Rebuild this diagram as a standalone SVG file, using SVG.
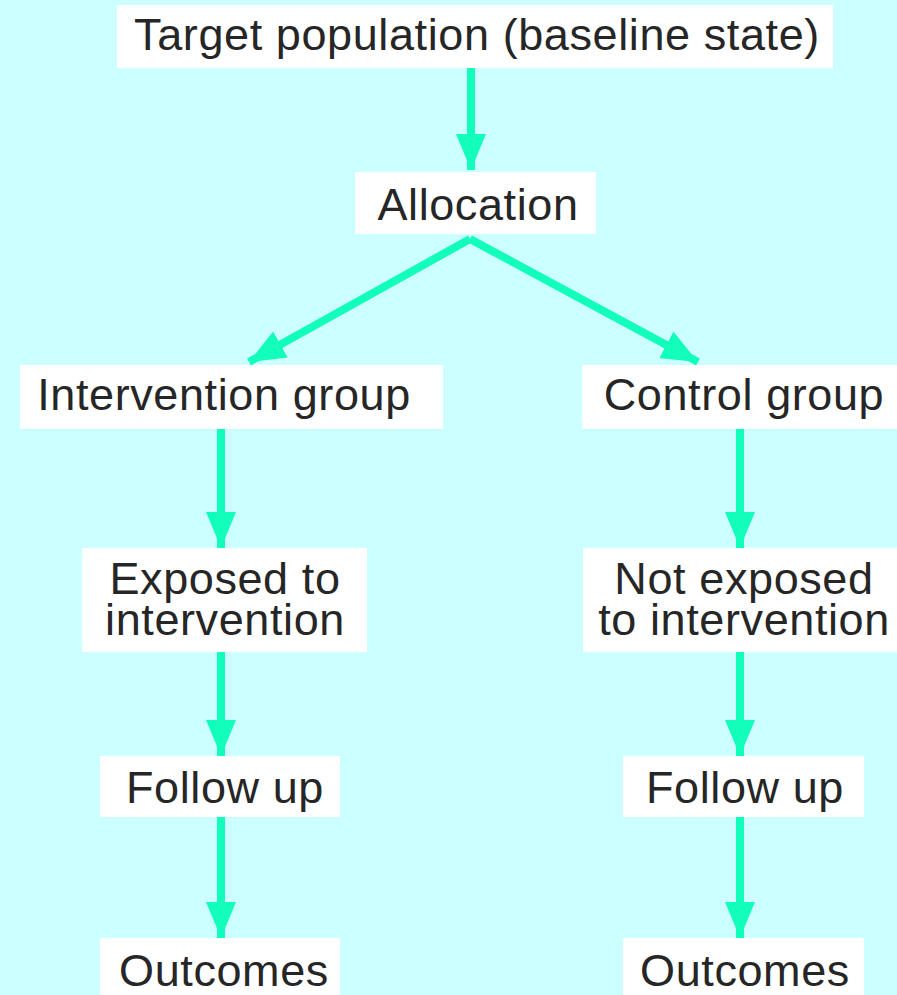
<svg xmlns="http://www.w3.org/2000/svg" width="897" height="995" viewBox="0 0 897 995">
<style>
.box{fill:#ffffff}
.t{font-family:"Liberation Sans",Arial,sans-serif;font-size:45px;letter-spacing:0.6px;fill:#262626;text-anchor:middle}
.c{stroke:#11ffbb;stroke-width:8;fill:none}
</style>
<defs>
<marker id="ah" viewBox="0 0 36 30" refX="36" refY="15" markerWidth="36" markerHeight="30" markerUnits="userSpaceOnUse" orient="auto">
<path d="M0,0 L36,15 L0,30 Z" fill="#11ffbb"/>
</marker>
</defs>
<rect width="897" height="995" fill="#ccffff"/>
<g id="connectors">
<line class="c" x1="471" y1="68" x2="471" y2="170" marker-end="url(#ah)"/>
<line class="c" x1="470" y1="239" x2="249" y2="362" marker-end="url(#ah)"/>
<line class="c" x1="470" y1="239" x2="698" y2="362" marker-end="url(#ah)"/>
<line class="c" x1="221" y1="429" x2="221" y2="548" marker-end="url(#ah)"/>
<line class="c" x1="221" y1="652" x2="221" y2="756" marker-end="url(#ah)"/>
<line class="c" x1="221" y1="817" x2="221" y2="938" marker-end="url(#ah)"/>
<line class="c" x1="740" y1="429" x2="740" y2="548" marker-end="url(#ah)"/>
<line class="c" x1="740" y1="652" x2="740" y2="756" marker-end="url(#ah)"/>
<line class="c" x1="740" y1="817" x2="740" y2="938" marker-end="url(#ah)"/>
</g>
<g id="target">
<rect class="box" x="117" y="5" width="716" height="63"/>
<text class="t" x="477" y="50">Target population (baseline state)</text>
</g>
<g id="allocation">
<rect class="box" x="355" y="172" width="241" height="62"/>
<text class="t" x="478" y="220">Allocation</text>
</g>
<g id="intervention-group">
<rect class="box" x="20" y="365" width="423" height="64"/>
<text class="t" x="224" y="410">Intervention group</text>
</g>
<g id="control-group">
<rect class="box" x="582" y="365" width="315" height="64"/>
<text class="t" x="744" y="410">Control group</text>
</g>
<g id="exposed">
<rect class="box" x="82" y="548" width="285" height="104"/>
<text class="t" x="225" y="594">Exposed to</text>
<text class="t" x="225" y="635">intervention</text>
</g>
<g id="not-exposed">
<rect class="box" x="583" y="548" width="314" height="104"/>
<text class="t" x="744" y="594">Not exposed</text>
<text class="t" x="744" y="635">to intervention</text>
</g>
<g id="followup-left">
<rect class="box" x="100" y="756" width="240" height="61"/>
<text class="t" x="225" y="803">Follow up</text>
</g>
<g id="followup-right">
<rect class="box" x="623" y="756" width="241" height="61"/>
<text class="t" x="745" y="803">Follow up</text>
</g>
<g id="outcomes-left">
<rect class="box" x="100" y="938" width="240" height="57"/>
<text class="t" x="224" y="986">Outcomes</text>
</g>
<g id="outcomes-right">
<rect class="box" x="623" y="938" width="241" height="57"/>
<text class="t" x="745" y="986">Outcomes</text>
</g>
</svg>
